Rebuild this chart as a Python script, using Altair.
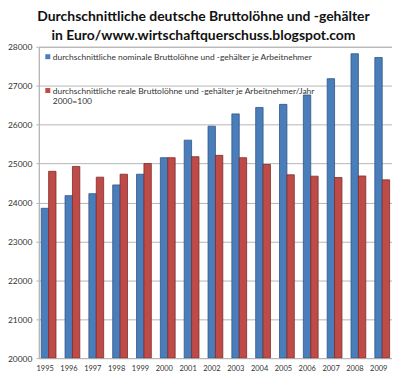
import altair as alt
import pandas as pd

years = [str(y) for y in range(1995, 2010)]
nominal = [23850, 24175, 24225, 24450, 24725, 25150, 25600, 25960,
           26275, 26440, 26520, 26760, 27180, 27820, 27725]
real = [24800, 24925, 24650, 24725, 25000, 25150, 25175, 25210,
        25150, 24975, 24710, 24675, 24640, 24680, 24580]
series = ["durchschnittliche nominale Bruttolöhne und -gehälter je Arbeitnehmer",
          "durchschnittliche reale Bruttolöhne und -gehälter je Arbeitnehmer/Jahr"]
series_note = "2000=100"
colors = ["#4a7ebb", "#be4b48"]
strokes = ["#2f5486", "#7d2c2a"]
title_lines = ["Durchschnittliche deutsche Bruttolöhne und -gehälter",
               "in Euro/www.wirtschaftquerschuss.blogspot.com"]

rows = []
for i, y in enumerate(years):
    rows.append({"Jahr": y, "Serie": series[0], "Wert": nominal[i]})
    rows.append({"Jahr": y, "Serie": series[1], "Wert": real[i]})
df = pd.DataFrame(rows)

font = "Lato"

x_enc = alt.X("Jahr:N", title=None,
              scale=alt.Scale(paddingInner=0.38, paddingOuter=0.1),
              axis=alt.Axis(labelAngle=0, labelFontSize=7.5, labelColor="#333",
                            labelFont=font, domain=False, ticks=False,
                            labelPadding=6, labelOffset=-3.5))
y_scale = alt.Scale(domain=[20000, 28000], zero=False, nice=False)

bars = alt.Chart(df).mark_bar(strokeWidth=0.8, clip=True).encode(
    x=x_enc,
    xOffset=alt.XOffset("Serie:N", sort=series),
    y=alt.Y("Wert:Q", scale=y_scale, title=None,
            axis=alt.Axis(values=list(range(20000, 28001, 1000)),
                          labelFontSize=8.5, labelColor="#333", labelFont=font,
                          format="d", gridColor="#b5b5b5", domainColor="#b5b5b5",
                          tickColor="#b5b5b5", tickSize=3, labelPadding=4)),
    y2=alt.datum(20000),
    color=alt.Color("Serie:N", sort=series,
                    scale=alt.Scale(domain=series, range=colors), legend=None),
    stroke=alt.Stroke("Serie:N", sort=series,
                      scale=alt.Scale(domain=series, range=strokes), legend=None),
)

leg_df = pd.DataFrame({
    "Serie": series,
    "text": [series[0], series[1]],
    "py": [10, 44],
})
leg_sq = alt.Chart(leg_df).mark_square(size=25, opacity=1).encode(
    x=alt.value(9),
    y=alt.Y("py:Q", scale=None),
    color=alt.Color("Serie:N", sort=series,
                    scale=alt.Scale(domain=series, range=colors), legend=None),
)
leg_txt = alt.Chart(leg_df).mark_text(align="left", baseline="middle",
                                      fontSize=8.5, font=font, color="#333").encode(
    x=alt.value(14),
    y=alt.Y("py:Q", scale=None),
    text="text:N",
)
note = alt.Chart(pd.DataFrame({"t": [series_note]})).mark_text(
    align="left", baseline="middle", fontSize=8.5, font=font, color="#333"
).encode(x=alt.value(14), y=alt.value(55), text="t:N")

chart = alt.layer(bars, leg_sq, leg_txt, note).properties(
    width=355, height=313,
    title=alt.TitleParams(title_lines, fontSize=14, font=font, fontWeight="bold",
                          color="#111", anchor="middle", dx=-12, offset=0,
                          lineHeight=19),
    padding={"left": 31, "top": 38, "right": 0, "bottom": 17},
    autosize=alt.AutoSizeParams(type="none"),
).configure_view(stroke="#b5b5b5", strokeWidth=1)

chart.save("out.html", embed_options={"renderer": "svg", "actions": False})
